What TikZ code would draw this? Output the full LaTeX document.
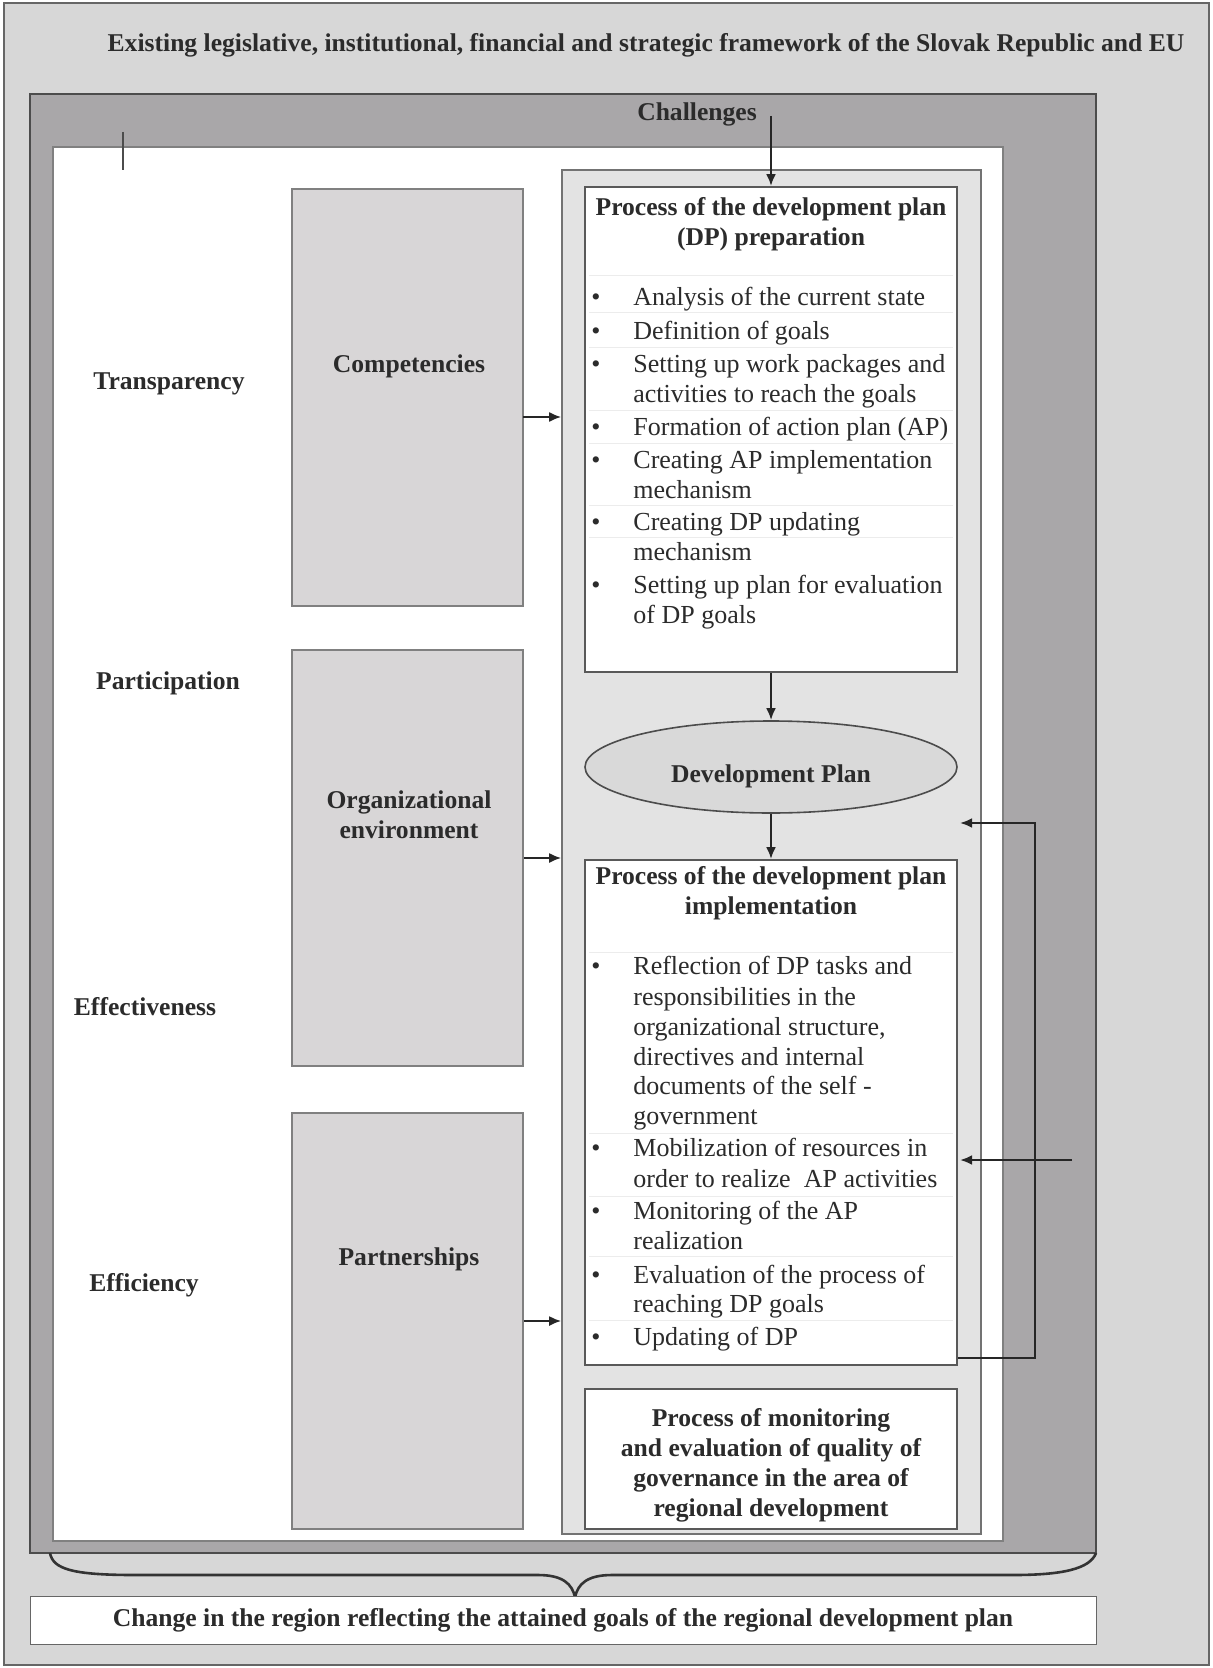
\documentclass[tikz,border=0pt]{standalone}
\usepackage{fontspec}
\setmainfont{Liberation Serif}
\usetikzlibrary{shapes.geometric,arrows.meta,positioning}
\definecolor{bgouter}{HTML}{D7D7D7}
\definecolor{bgmid}{HTML}{A9A7A9}
\definecolor{bgproc}{HTML}{E3E3E3}
\definecolor{boxgray}{HTML}{D8D6D7}
\definecolor{ink}{HTML}{2B2B2B}
\begin{document}
\begin{tikzpicture}[x=0.5pt,y=-0.5pt,
    every node/.style={text=ink},
    bfont/.style={font=\fontsize{12.8}{15}\selectfont\bfseries},
    lbl/.style={bfont, yshift=-1.8pt},
    head/.style={lbl, align=center},
    itm/.style={font=\fontsize{13}{15}\selectfont, anchor=mid west, inner sep=0pt, yshift=-1.8pt},
    area/.style={draw=black!50, fill=boxgray, minimum width=115.5pt, minimum height=208pt, line width=0.8pt},
    stage/.style={draw=black!65, fill=white, minimum width=186pt, line width=0.9pt},
    arr/.style={-{Latex[length=6pt,width=5pt]}, line width=1pt, draw=black!85}]
    \useasboundingbox (0,0) rectangle (1213,1668);
    \draw[fill=bgouter, draw=black!60, line width=1pt] (4,3) rectangle (1209,1665);
    \node[lbl] (frametitle) at (646,42) {Existing legislative, institutional, financial and strategic framework of the Slovak Republic and EU};
    \draw[fill=bgmid, draw=black!70, line width=1pt] (30,94) rectangle (1096,1553);
    \draw[fill=white, draw=black!50, line width=1pt] (53,147) rectangle (1003,1541);
    \node[lbl] (chaltxt) at (697,111) {Challenges};
    \draw[line width=1pt, black!70] (123,132) -- (123,170);
    \node[draw=black!55, fill=bgproc, minimum width=209.5pt, minimum height=682pt, line width=0.8pt] (proc) at (771.5,852) {};
    \node[stage, minimum height=242.5pt] (prep) at (771,429.5) {};
    \node[stage, minimum height=252.5pt] (impl) at (771,1112.5) {};
    \node[stage, minimum height=70pt] (mon) at (771,1459) {};
    \node[ellipse, draw=black!70, fill=gray!30, minimum width=186pt, minimum height=46pt, line width=0.8pt] (dp) at (771,767) {};
    \foreach \y in {275,312,347,410,443,505,537,952,1133,1196,1256,1320}
        \draw[gray!15] (589,\y) -- (953,\y);
    \node[lbl] (dptxt) at (771,773) {Development Plan};
    \node[head] (preptitle) at (771,221) {Process of the development plan\\(DP) preparation};
    \node[head] (impltitle) at (771,890) {Process of the development plan\\implementation};
    \node[head] (montxt) at (771,1462) {Process of monitoring\\and evaluation of quality of\\governance in the area of\\regional development};
    \foreach \y/\t in {297/Analysis of the current state, 331/Definition of goals,
        364/Setting up work packages and, 394/activities to reach the goals,
        427/Formation of action plan (AP), 460/Creating AP implementation, 490/mechanism,
        522/Creating DP updating, 552/mechanism, 585/Setting up plan for evaluation, 615/of DP goals,
        966/Reflection of DP tasks and, 997/responsibilities in the, 1027/{organizational structure,},
        1057/directives and internal, 1086/documents of the self -, 1116/government,
        1148/Mobilization of resources in, 1179/order to realize \ AP activities,
        1211/Monitoring of the AP, 1241/realization, 1275/Evaluation of the process of,
        1304/reaching DP goals, 1337/Updating of DP}
        \node[itm] (l\y) at (633,\y) {\t};
    \foreach \y in {297,331,364,427,460,522,585,966,1148,1211,1275,1337}
        \node[itm] (b\y) at (591,\y) {\textbullet};
    \node[area, minimum height=208.5pt] (comp) at (407.5,397.5) {};
    \node[area] (org) at (407.5,858) {};
    \node[area] (part) at (407.5,1321) {};
    \node[lbl] (comptxt) at (409,363) {Competencies};
    \node[head] (orgtxt) at (409,811) {Organizational\\environment};
    \node[lbl] (parttxt) at (409,1256) {Partnerships};
    \node[lbl] (transp) at (169,380) {Transparency};
    \node[lbl] (partic) at (168,680) {Participation};
    \node[lbl] (effect) at (145,1003) {Effectiveness};
    \node[lbl] (effic) at (144,1282) {Efficiency};
    \coordinate (chal) at (771,116);
    \coordinate (ca) at (523,417);
    \coordinate (fbtop) at (1035,823);
    \coordinate (fbend) at (960,823);
    \coordinate (res) at (1072,1160);
    \draw[arr, line width=1.3pt] (chal) -- (prep.north);
    \draw[arr, line width=1.3pt] (prep.south) -- (dp.north);
    \draw[arr, line width=1.3pt] (dp.south) -- (impl.north);
    \draw[arr] (ca) -- (ca -| proc.west);
    \draw[arr] (org.east) -- (org.east -| proc.west);
    \draw[arr] (part.east) -- (part.east -| proc.west);
    \draw[arr, line width=1.4pt] ([yshift=4pt]impl.south east) -| (fbtop) -- (fbend);
    \draw[arr, line width=1.4pt] (res) -- (res -| fbend);
    \draw[line width=1.3pt, draw=black!80] (50,1553) .. controls (53,1569) and (72,1575) .. (135,1575)
        -- (538,1575) .. controls (563,1575) and (572,1584) .. (575,1597)
        .. controls (578,1584) and (587,1575) .. (612,1575)
        -- (1013,1575) .. controls (1062,1575) and (1090,1569) .. (1096,1553);
    \node[draw=black!60, fill=white, minimum width=533pt, minimum height=24pt, bfont] (result) at (563,1620) {Change in the region reflecting the attained goals of the regional development plan};
\end{tikzpicture}
\end{document}
